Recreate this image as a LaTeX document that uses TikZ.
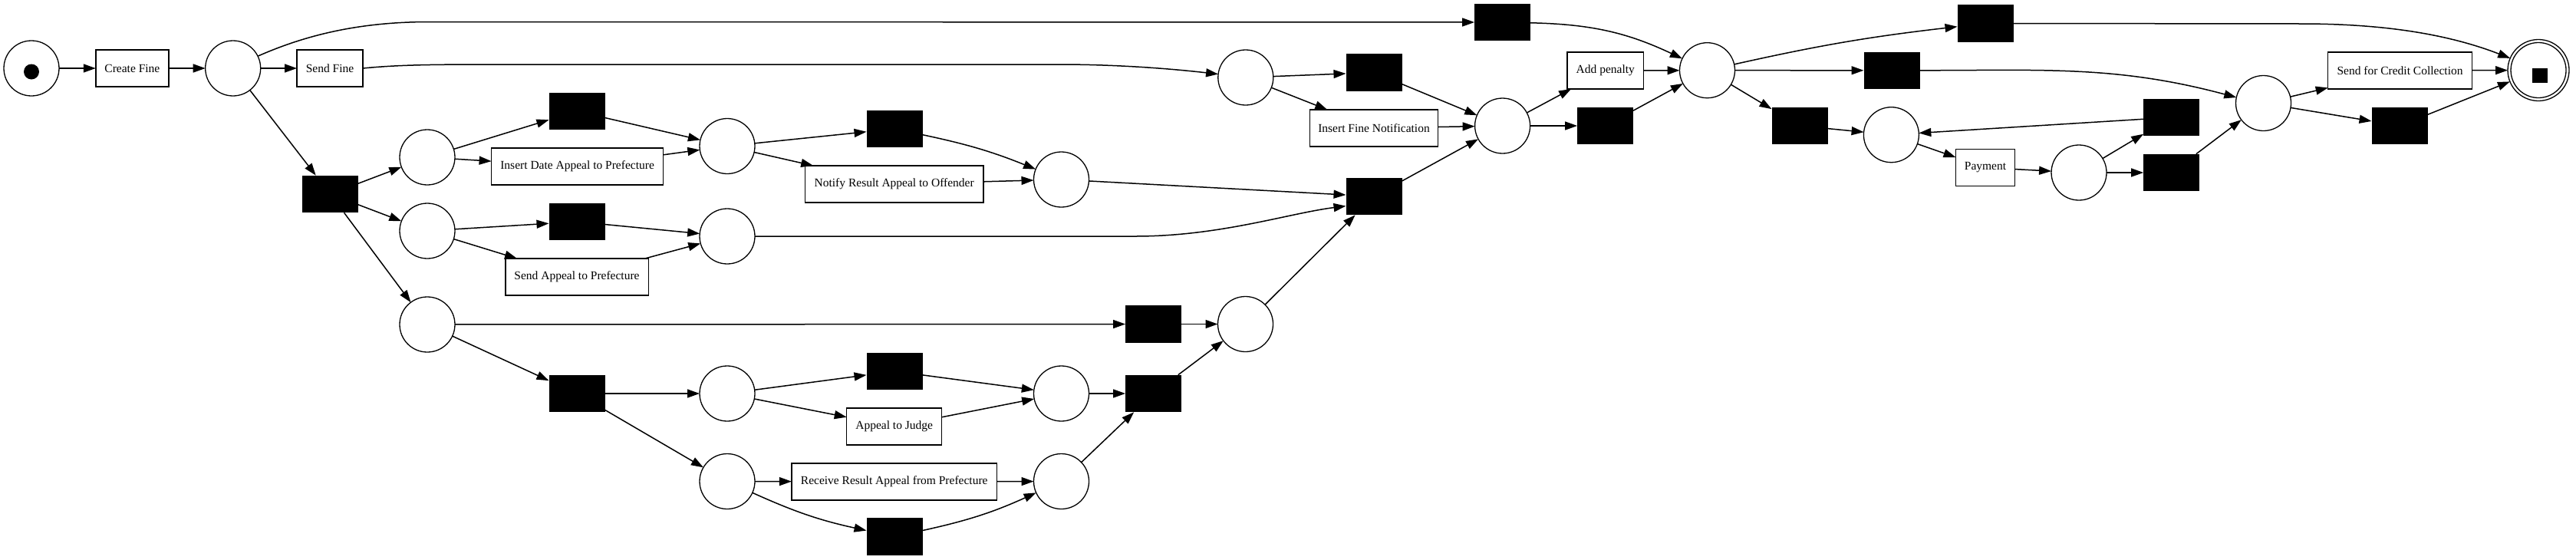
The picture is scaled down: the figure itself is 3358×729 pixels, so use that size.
\documentclass[tikz,border=0pt]{standalone}
\usepackage{fontspec}
\setmainfont{Liberation Serif}
\usetikzlibrary{arrows.meta}
\begin{document}
\begin{tikzpicture}[x=1pt,y=-1pt,
  place/.style={circle,draw,line width=1.3pt,minimum size=72pt,inner sep=0pt,outer sep=0pt},
  tlab/.style={rectangle,draw,line width=1.5pt,minimum height=48pt,inner sep=0pt,outer sep=0pt,font=\fontsize{15.5}{17}\selectfont},
  tau/.style={rectangle,fill=black,draw=none,minimum width=73pt,minimum height=48.6pt,inner sep=0pt,outer sep=0pt},
  arr/.style={line width=1.5pt,-{Triangle[length=16pt,width=11pt]}},
]
\useasboundingbox (0,0) rectangle (3358,729);
% places
\node[place] (start) at (41,89) {};
\node[circle,fill=black,minimum size=20pt,inner sep=0pt] (tok) at (41,93.5) {};
\node[place] (p1) at (303.7,89) {};
\node[place] (p2) at (557,205) {};
\node[place] (p3) at (557,301) {};
\node[place] (p4) at (557,423) {};
\node[place] (p5) at (948,190.5) {};
\node[place] (p6) at (1383.5,234) {};
\node[place] (p7) at (948,308) {};
\node[place] (p8) at (1623.5,422.5) {};
\node[place] (p9) at (948,513) {};
\node[place] (p10) at (1383.5,513) {};
\node[place] (p11) at (948,627.5) {};
\node[place] (p12) at (1383.5,627.5) {};
\node[place] (p13) at (1623.8,101) {};
\node[place] (p14) at (1958.6,164) {};
\node[place] (p15) at (2225.5,91.7) {};
\node[place] (p16) at (2465.4,175.7) {};
\node[place] (p17) at (2710,225) {};
\node[place] (p18) at (2950.5,134.5) {};
\node[place,minimum size=80pt] (end) at (3309,91.5) {};
\node[place] (endin) at (3309,91.5) {};
\node[rectangle,fill=black,minimum size=19.5pt,inner sep=0pt] (endtok) at (3311,98.3) {};
% labelled transitions
\node[tlab,minimum width=95.3pt] (CF) at (172.4,89) {Create Fine};
\node[tlab,minimum width=86pt] (SF) at (430,89) {Send Fine};
\node[tlab,minimum width=224pt] (IDAP) at (752.6,217) {Insert Date Appeal to Prefecture};
\node[tlab,minimum width=186.5pt] (SAP) at (752,361) {Send Appeal to Prefecture};
\node[tlab,minimum width=232.5pt] (NRAO) at (1165.7,240) {Notify Result Appeal to Offender};
\node[tlab,minimum width=124pt] (AtJ) at (1165.7,556) {Appeal to Judge};
\node[tlab,minimum width=267.5pt] (RRAP) at (1165.7,627.8) {Receive Result Appeal from Prefecture};
\node[tlab,minimum width=167pt] (IFN) at (1791,167) {Insert Fine Notification};
\node[tlab,minimum width=99.5pt] (AP) at (2092.8,92) {Add penalty};
\node[tlab,minimum width=77pt] (Pay) at (2588,218.5) {Payment};
\node[tlab,minimum width=187.6pt] (SCC) at (3128.5,92) {Send for Credit Collection};
% silent transitions
\node[tau] (a1) at (430.5,253) {};
\node[tau] (a2) at (752,145) {};
\node[tau] (a3) at (752,289) {};
\node[tau] (a4) at (752,513) {};
\node[tau] (a5) at (1166,168) {};
\node[tau] (a6) at (1166,484) {};
\node[tau] (a7) at (1166,699.5) {};
\node[tau] (a8) at (1503.6,422.5) {};
\node[tau] (a9) at (1503.6,513) {};
\node[tau] (a10) at (1791,256) {};
\node[tau] (a11) at (1791,94.5) {};
\node[tau] (a12) at (1958.6,29) {};
\node[tau] (a13) at (2092.6,164) {};
\node[tau] (a14) at (2346,164) {};
\node[tau] (a15) at (2466,91.8) {};
\node[tau] (a16) at (2588,30.5) {};
\node[tau] (a17) at (2830.7,153) {};
\node[tau] (a18) at (2830.7,225) {};
\node[tau] (a19) at (3128,164) {};
% arcs
\draw[arr] (start) -- (CF);
\draw[arr] (CF) -- (p1);
\draw[arr] (p1) -- (SF);
\draw[arr] (p1.26) .. controls (400,45) and (470,28.5) .. (560,28.5) -- (a12.west);
\draw[arr] (p1) -- (a1);
\draw[arr] (SF.east) .. controls (520,84.5) and (560,84) .. (650,84) -- (1380,84) .. controls (1460,84) and (1530,90) .. (p13.173);
\draw[arr] (a1) -- (p2);
\draw[arr] (a1) -- (p3);
\draw[arr] (a1) -- (p4);
\draw[arr] (p2) -- (a2);
\draw[arr] (p2) -- (IDAP);
\draw[arr] (a2) -- (p5);
\draw[arr] (IDAP) -- (p5);
\draw[arr] (p5) -- (a5);
\draw[arr] (p5) -- (NRAO);
\draw[arr] (a5) to[bend left=5] (p6);
\draw[arr] (NRAO) -- (p6);
\draw[arr] (p6) -- (a10);
\draw[arr] (p3) -- (a3);
\draw[arr] (p3) -- (SAP);
\draw[arr] (a3) -- (p7);
\draw[arr] (SAP) -- (p7);
\draw[arr] (p7.east) -- (1480,308) .. controls (1590,308) and (1680,278) .. (a10.199);
\draw[arr] (p4) -- (a8);
\draw[arr] (p4) -- (a4);
\draw[arr] (a4) -- (p9);
\draw[arr] (a4) -- (p11);
\draw[arr] (p9) -- (a6);
\draw[arr] (p9) -- (AtJ);
\draw[arr] (a6) -- (p10);
\draw[arr] (AtJ) -- (p10);
\draw[arr] (p10) -- (a9);
\draw[arr] (p11) -- (RRAP);
\draw[arr] (p11) to[bend right=6] (a7);
\draw[arr] (RRAP) -- (p12);
\draw[arr] (a7) to[bend right=6] (p12);
\draw[arr] (p12) -- (a9);
\draw[arr] (a8) -- (p8);
\draw[arr] (a9) -- (p8);
\draw[arr] (p8) -- (a10);
\draw[arr] (a10) -- (p14);
\draw[arr] (p13) -- (a11);
\draw[arr] (p13) -- (IFN);
\draw[arr] (a11) -- (p14);
\draw[arr] (IFN) -- (p14);
\draw[arr] (p14) -- (AP);
\draw[arr] (p14) -- (a13);
\draw[arr] (AP) -- (p15);
\draw[arr] (a13) -- (p15);
\draw[arr] (a12) to[bend left=12] (p15);
\draw[arr] (p15) to[bend left=3] (a16);
\draw[arr] (p15) -- (a15);
\draw[arr] (p15) -- (a14);
\draw[arr] (a14) -- (p16);
\draw[arr] (p16) -- (Pay);
\draw[arr] (Pay) -- (p17);
\draw[arr] (p17) -- (a17);
\draw[arr] (p17) -- (a18);
\draw[arr] (a17) -- (p16);
\draw[arr] (a18) -- (p18);
\draw[arr] (a15.east) to[out=0,in=165] (p18.168);
\draw[arr] (p18) -- (SCC);
\draw[arr] (p18) -- (a19);
\draw[arr] (SCC) -- (end);
\draw[arr] (a19) -- (end);
\draw[arr] (a16.east) -- (3000,31) .. controls (3120,31) and (3200,48) .. (end.157);
\end{tikzpicture}
\end{document}
